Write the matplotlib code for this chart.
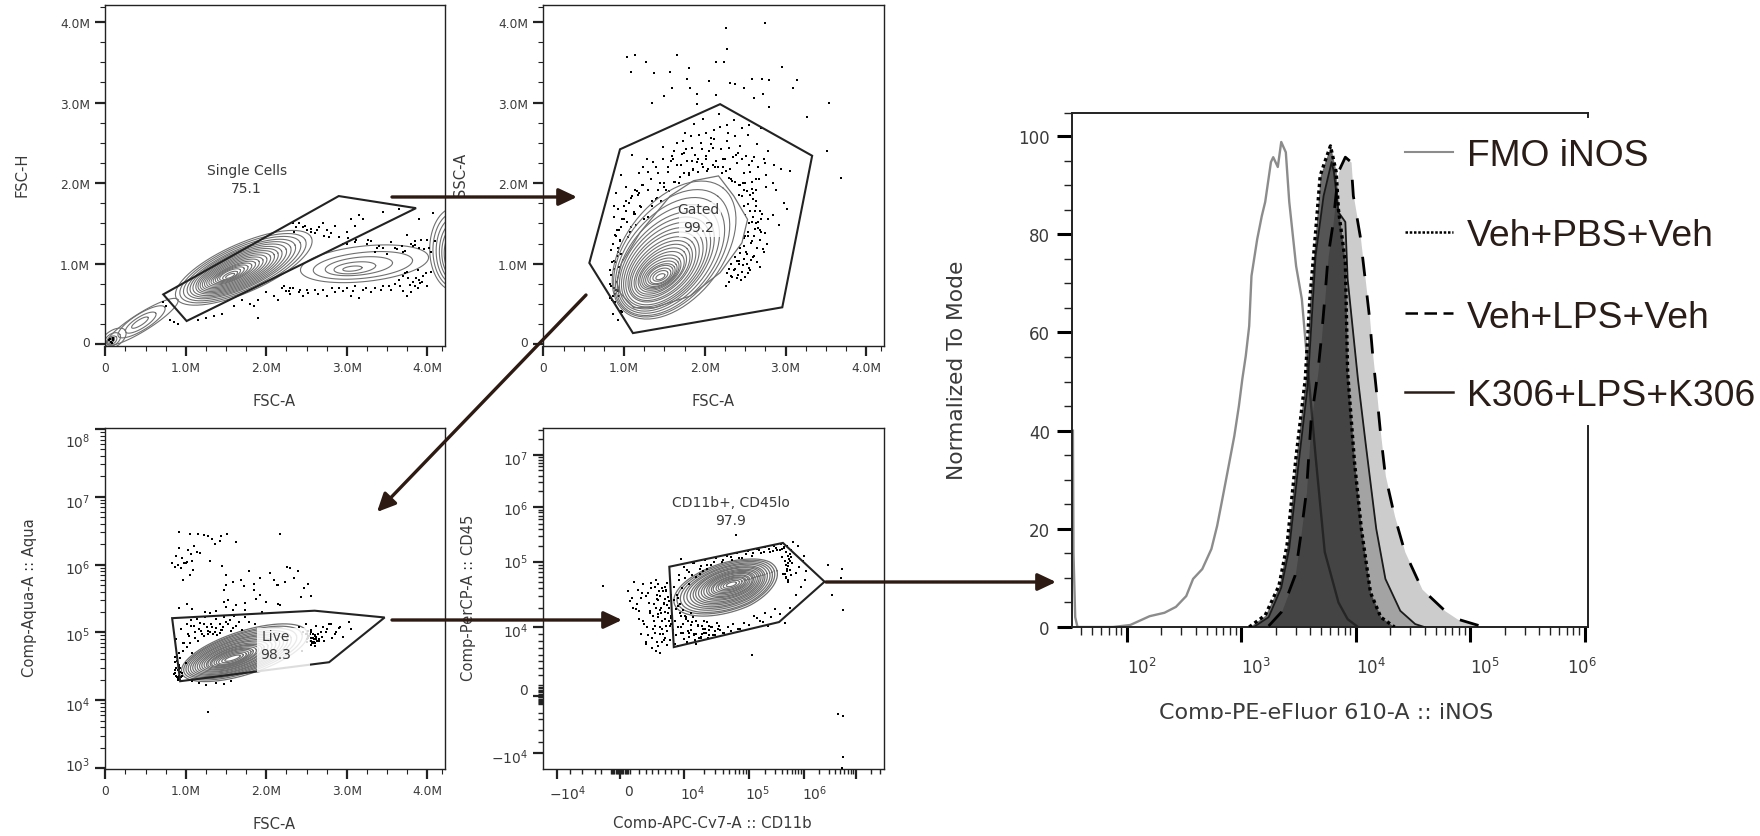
import numpy as np
import matplotlib
matplotlib.use('Agg')
import matplotlib.pyplot as plt
from matplotlib.patches import FancyArrowPatch, Rectangle
from matplotlib.lines import Line2D
from matplotlib.ticker import NullFormatter
from matplotlib.transforms import ScaledTranslation

plt.rcParams['mathtext.fontset'] = 'dejavusans'
plt.rcParams['mathtext.default'] = 'regular'

W, H = 1760, 837
DARK = '#222222'
TXT = '#3a3a3a'
RING = '#707070'
ARROW = '#2d1a12'

# ---- gates
gate1_x = [0.72, 2.90, 3.86, 1.01]
gate1_y = [0.62, 1.84, 1.69, 0.29]
gate2_x = [0.95, 2.19, 3.33, 2.96, 1.11, 0.57]
gate2_y = [2.42, 2.98, 2.34, 0.46, 0.14, 1.01]
gate3_x = [0.83, 2.60, 3.47, 2.78, 0.93]
gate3_log = [5.21, 5.32, 5.22, 4.56, 4.28]
gate4_s = [0.77, 2.62, 3.40, 2.55, 0.84]
gate4_t = [1.93, 2.35, 1.70, 1.08, 0.71]

# ---- contour rings: centre, semi axes, tilt
p1_cx = [1.72, 1.71, 1.70, 1.69, 1.68, 1.67, 1.66, 1.65, 1.64, 1.63, 1.62, 1.61, 1.60, 1.59, 1.58, 1.57, 1.56, 1.55, 1.55, 1.55,
         3.22, 3.20, 3.15, 3.10, 3.07,
         0.46, 0.45, 0.44, 0.43,
         0.10, 0.09, 0.08, 0.07, 0.07, 0.07,
         4.35, 4.35, 4.35, 4.35, 4.35, 4.35, 4.35, 4.35]
p1_cy = [0.95, 0.945, 0.94, 0.935, 0.93, 0.925, 0.92, 0.915, 0.91, 0.905, 0.90, 0.895, 0.89, 0.885, 0.88, 0.875, 0.87, 0.865, 0.855, 0.85,
         1.00, 0.98, 0.97, 0.95, 0.94,
         0.28, 0.28, 0.27, 0.27,
         0.07, 0.06, 0.05, 0.05, 0.05, 0.05,
         1.18, 1.17, 1.16, 1.15, 1.14, 1.13, 1.12, 1.12]
p1_a = [0.92, 0.85, 0.79, 0.73, 0.68, 0.63, 0.58, 0.54, 0.50, 0.46, 0.42, 0.38, 0.34, 0.30, 0.26, 0.22, 0.18, 0.14, 0.10, 0.06,
        0.80, 0.62, 0.42, 0.26, 0.12,
        0.52, 0.34, 0.22, 0.12,
        0.18, 0.11, 0.07, 0.05, 0.03, 0.02,
        0.52, 0.47, 0.42, 0.37, 0.32, 0.27, 0.22, 0.17]
p1_b = [0.30, 0.28, 0.26, 0.24, 0.225, 0.21, 0.195, 0.18, 0.165, 0.15, 0.135, 0.12, 0.105, 0.09, 0.08, 0.07, 0.06, 0.05, 0.035, 0.02,
        0.22, 0.16, 0.11, 0.07, 0.03,
        0.11, 0.10, 0.07, 0.035,
        0.10, 0.07, 0.045, 0.03, 0.02, 0.012,
        0.32, 0.28, 0.24, 0.20, 0.17, 0.14, 0.11, 0.08]
p1_ang = [24] * 20 + [6] * 5 + [32] * 4 + [35] * 6 + [90] * 8

p2_cx = [1.62, 1.59, 1.57, 1.55, 1.53, 1.52, 1.51, 1.50, 1.49, 1.48, 1.47, 1.47, 1.46, 1.46, 1.45, 1.45, 1.45, 1.45, 1.45, 1.45, 1.45, 1.45]
p2_cy = [1.17, 1.13, 1.09, 1.06, 1.03, 1.01, 0.99, 0.97, 0.96, 0.94, 0.93, 0.92, 0.91, 0.90, 0.89, 0.88, 0.87, 0.86, 0.86, 0.85, 0.85, 0.84]
p2_a = [0.98, 0.91, 0.85, 0.79, 0.73, 0.68, 0.63, 0.58, 0.53, 0.49, 0.45, 0.41, 0.37, 0.33, 0.29, 0.26, 0.23, 0.20, 0.17, 0.14, 0.10, 0.06]
p2_b = [0.60, 0.56, 0.52, 0.48, 0.44, 0.41, 0.38, 0.35, 0.32, 0.29, 0.26, 0.235, 0.21, 0.19, 0.17, 0.15, 0.13, 0.115, 0.10, 0.08, 0.055, 0.03]
p2_ang = [52, 51, 50, 49, 48, 47, 46, 45, 44, 43, 42, 41, 40, 38, 36, 34, 32, 30, 29, 28, 26, 25]
egg_x = [0.91, 0.97, 1.20, 1.57, 1.86, 2.17, 2.36, 2.53, 2.46, 2.19, 1.82, 1.37, 1.12, 0.95, 0.91]
egg_y = [0.77, 1.01, 1.39, 1.84, 2.03, 2.09, 1.84, 1.55, 1.26, 0.89, 0.60, 0.455, 0.455, 0.64, 0.77]

p3_cx = [1.73, 1.71, 1.69, 1.67, 1.66, 1.65, 1.64, 1.63, 1.62, 1.61, 1.60, 1.60, 1.59, 1.59, 1.58, 1.58, 1.58, 1.58, 1.58, 1.58]
p3_cy = [4.70, 4.695, 4.69, 4.68, 4.675, 4.67, 4.665, 4.66, 4.655, 4.65, 4.645, 4.64, 4.64, 4.635, 4.63, 4.63, 4.625, 4.62, 4.62, 4.62]
p3_a = [0.82, 0.77, 0.72, 0.67, 0.63, 0.59, 0.55, 0.51, 0.47, 0.43, 0.39, 0.36, 0.33, 0.30, 0.27, 0.24, 0.21, 0.18, 0.14, 0.10]
p3_b = [0.27, 0.25, 0.235, 0.22, 0.205, 0.19, 0.18, 0.165, 0.15, 0.14, 0.125, 0.115, 0.105, 0.095, 0.085, 0.075, 0.065, 0.055, 0.04, 0.025]

p4_cx = [1.68, 1.68, 1.685, 1.69, 1.69, 1.695, 1.70, 1.70, 1.705, 1.71, 1.71, 1.715, 1.72, 1.72, 1.72, 1.725, 1.73, 1.73, 1.73, 1.73]
p4_cy = [1.615, 1.62, 1.62, 1.625, 1.63, 1.63, 1.635, 1.64, 1.64, 1.645, 1.645, 1.65, 1.65, 1.65, 1.655, 1.655, 1.66, 1.66, 1.66, 1.66]
p4_a = [0.87, 0.82, 0.77, 0.72, 0.67, 0.62, 0.58, 0.54, 0.50, 0.46, 0.42, 0.38, 0.35, 0.31, 0.28, 0.24, 0.21, 0.17, 0.13, 0.08]
p4_b = [0.38, 0.355, 0.335, 0.31, 0.29, 0.27, 0.25, 0.235, 0.215, 0.195, 0.18, 0.165, 0.15, 0.13, 0.115, 0.10, 0.085, 0.07, 0.05, 0.03]

# ---- single events, read by eye
dots1_x = [2.45, 2.50, 2.55, 2.60, 2.65, 2.70, 2.75, 2.80, 2.85, 2.90, 2.95, 3.00, 3.05, 3.10, 3.15, 3.20, 3.30,
           3.40, 3.45, 3.55, 3.60, 3.70, 3.75, 3.80, 3.85, 3.90, 4.00, 4.05, 3.65, 3.45, 4.07, 3.90, 4.10, 2.40,
           2.35, 3.00, 3.10, 3.25, 3.35, 3.50, 2.30, 2.20, 2.25, 2.30, 2.40, 2.45, 2.50, 2.60, 2.70, 2.75, 2.85,
           2.90, 3.00, 3.05, 3.10, 3.15, 3.20, 3.30, 3.35, 3.45, 3.55, 3.60, 3.70, 3.75, 3.80, 3.85, 3.90, 3.95,
           4.00, 4.05, 3.65, 3.70, 3.75, 2.00, 2.10, 2.15, 1.90, 1.85, 1.80, 1.70, 1.60, 1.35, 1.25, 1.45, 1.90,
           0.72, 0.75, 0.80, 0.85, 0.90, 1.15, 2.33, 2.37, 3.62, 3.68, 3.72, 3.78, 3.82, 3.88, 3.94,
           2.48, 2.56, 2.63, 2.72, 2.78, 3.82, 3.85, 3.92, 3.96, 4.02, 3.86, 3.91, 3.98, 3.88, 3.72, 3.76, 3.66,
           2.22, 2.28, 2.33, 2.42, 2.52, 2.64, 2.82, 2.95, 3.08, 3.24, 3.42, 3.52, 3.02, 3.12, 3.26, 3.38, 0.06,
           0.09, 0.07, 0.10, 0.05, 0.08]
dots1_y = [1.45, 1.42, 1.40, 1.38, 1.45, 1.50, 1.42, 1.38, 1.47, 1.33, 1.25, 1.40, 1.55, 1.47, 1.60, 1.56, 1.28,
           1.22, 1.20, 1.27, 1.20, 1.15, 1.36, 1.25, 1.23, 1.20, 1.30, 1.15, 1.68, 1.64, 1.63, 1.55, 1.28, 1.50,
           1.40, 1.25, 1.27, 1.25, 1.15, 1.12, 0.70, 0.70, 0.66, 0.62, 0.65, 0.60, 0.68, 0.68, 0.67, 0.60, 0.65,
           0.70, 0.70, 0.60, 0.72, 0.58, 0.68, 0.65, 0.70, 0.72, 0.68, 0.75, 0.66, 0.60, 0.65, 0.72, 0.80, 0.85,
           0.72, 0.90, 0.80, 0.85, 0.90, 0.65, 0.60, 0.55, 0.55, 0.48, 0.50, 0.55, 0.48, 0.35, 0.33, 0.38, 0.33,
           0.52, 0.48, 0.30, 0.28, 0.25, 0.30, 1.50, 1.46, 1.18, 1.22, 1.16, 0.74, 0.78, 0.70, 0.78,
           1.47, 1.43, 1.42, 1.35, 1.33, 1.22, 1.28, 1.30, 1.18, 1.20, 0.82, 0.76, 0.88, 0.92, 0.88, 0.82, 0.72,
           0.72, 0.66, 0.70, 0.68, 0.64, 0.62, 0.70, 0.66, 0.66, 0.70, 0.68, 0.72, 1.32, 1.30, 1.30, 1.20, 0.07,
           0.05, 0.03, 0.08, 0.05, 0.02]

dots2_x = [2.26, 2.75, 2.28, 1.04, 1.14, 1.66, 1.27, 2.14, 2.24, 1.81, 2.96, 1.09, 1.37, 1.57, 1.78, 2.05, 2.31,
           2.38, 2.58, 2.71, 2.80, 3.14, 3.09, 2.48, 1.59, 1.82, 1.90, 1.50, 2.14, 2.61, 2.72, 1.35, 1.90, 3.54,
           2.80, 3.26, 3.52, 3.69, 3.06, 3.02,
           1.18, 1.28, 1.39, 1.48, 1.58, 1.66, 1.74, 1.83, 1.92, 2.01, 2.10, 2.19, 2.27, 2.36, 2.44, 2.53, 2.61,
           2.70, 2.78, 1.22, 1.33, 1.44, 1.55, 1.63, 1.71, 1.80, 1.88, 1.96, 2.05, 2.13, 2.22, 2.31, 2.40, 2.49,
           2.58, 2.66, 2.76, 2.86, 1.10, 1.19, 1.30, 1.41, 1.50, 1.61, 1.69, 1.77, 1.86, 1.95, 2.03, 2.12, 2.21,
           2.30, 2.39, 2.47, 2.56, 2.65, 2.74, 2.84, 2.94, 1.62, 1.73, 1.84, 1.93, 2.02, 2.11, 2.20, 2.28, 2.37,
           2.46, 2.55, 2.64, 2.73, 1.76, 1.87, 1.98, 2.08, 2.18, 2.29, 2.34, 2.42, 2.50, 2.58, 2.67, 2.76, 2.88,
           1.02, 1.06, 1.12, 1.17, 1.25, 1.34, 1.42, 1.50, 0.96, 1.02, 1.08, 1.14, 1.21, 1.30, 0.90, 0.95, 1.00,
           1.07, 1.15, 0.88, 0.93, 0.99, 1.05, 0.86, 0.91, 0.96, 1.02, 0.84, 0.89, 0.94, 0.83, 0.87, 0.92, 0.84,
           0.89, 0.82, 0.85, 0.90, 0.94, 0.97, 0.92, 0.96, 0.83, 0.86,
           2.42, 2.49, 2.56, 2.63, 2.71, 2.78, 2.55, 2.62, 2.70, 2.50, 2.58, 2.66, 2.44, 2.52, 2.60, 2.40, 2.47,
           2.55, 2.36, 2.43, 2.51, 2.33, 2.40, 2.48, 2.54, 2.30, 2.26, 2.60, 2.64, 2.85, 2.92, 2.98,
           1.34, 1.40, 1.46, 1.52, 1.56, 1.62, 1.68, 1.74, 1.80, 1.86, 1.92, 1.98, 2.04, 2.10, 2.16, 2.22, 2.26,
           2.32, 2.38, 2.44, 2.48, 2.52, 2.56, 2.60, 2.64, 2.68, 1.24, 1.30, 1.36, 1.42, 1.48, 1.54, 1.60, 1.66,
           1.72, 1.78, 1.84, 1.90, 1.96, 2.02, 2.08, 2.14, 2.20, 2.25, 2.30, 2.35, 2.41, 2.46, 2.51, 2.55, 2.59,
           2.38, 2.42, 2.46, 2.50, 2.54, 2.58, 2.62, 2.66, 2.70, 2.74, 2.45, 2.49, 2.53, 2.57, 2.61, 2.65, 2.69,
           2.73, 2.77, 2.56, 2.60, 2.64, 2.68, 2.72, 2.57, 2.61, 2.65, 2.69, 2.40, 2.44, 2.48, 2.52, 2.56, 2.38,
           2.42, 2.46, 2.50, 2.54, 2.33, 2.37, 2.41, 2.45, 2.30, 2.34, 2.28,
           0.88, 0.92, 0.96, 1.00, 1.04, 1.08, 1.12, 1.16, 1.20, 1.24, 0.90, 0.94, 0.98, 1.02, 1.06, 1.10, 1.14,
           0.86, 0.89, 0.92, 0.95, 0.85, 0.88, 0.91, 0.94, 0.84, 0.87, 0.90, 0.93, 0.86, 0.89, 0.92]
dots2_y = [3.93, 3.99, 3.67, 3.57, 3.59, 3.59, 3.50, 3.50, 3.50, 3.43, 3.44, 3.38, 3.37, 3.38, 3.29, 3.27, 3.24,
           3.23, 3.29, 3.29, 3.28, 3.28, 3.18, 3.18, 3.18, 3.18, 3.11, 3.08, 3.09, 3.06, 3.11, 2.99, 2.98, 2.99,
           2.95, 2.82, 2.40, 2.07, 2.15, 1.68,
           2.12, 2.30, 2.20, 2.45, 2.28, 2.50, 2.37, 2.58, 2.30, 2.62, 2.44, 2.70, 2.52, 2.78, 2.46, 2.60, 2.33,
           2.68, 2.40, 1.98, 2.05, 2.00, 2.14, 2.02, 2.22, 2.13, 2.35, 2.24, 2.40, 2.20, 2.30, 2.18, 2.25, 2.12,
           2.02, 2.20, 2.10, 2.22, 2.35, 1.88, 1.92, 1.82, 1.95, 2.30, 2.08, 2.42, 2.18, 2.50, 2.15, 2.55, 2.12,
           2.07, 2.35, 2.00, 2.14, 2.48, 2.25, 2.00, 2.18, 2.40, 2.52, 2.28, 2.60, 2.34, 2.66, 2.42, 2.72, 2.58,
           2.68, 2.72, 2.05, 2.30, 2.62, 2.74, 2.80, 2.56, 2.86, 2.62, 2.03, 1.98, 2.00, 1.93, 2.05, 1.95, 1.92,
           1.95, 1.75, 1.62, 1.85, 1.55, 1.78, 1.92, 2.00, 2.10, 1.78, 1.45, 1.62, 1.70, 1.58, 1.88, 1.30, 1.55,
           1.40, 1.48, 1.72, 1.20, 1.05, 1.33, 1.25, 1.42, 1.12, 0.98, 1.17, 1.02, 0.88, 0.92, 1.03, 0.82, 0.72,
           0.62, 0.75, 0.55, 0.68, 0.60, 0.40, 0.30, 0.42, 0.58, 0.38,
           1.85, 1.72, 1.66, 1.78, 1.62, 1.55, 1.50, 1.43, 1.40, 1.34, 1.28, 1.52, 1.20, 1.12, 1.08, 1.03, 0.98,
           0.95, 0.92, 1.04, 1.14, 0.85, 0.82, 1.22, 1.35, 0.78, 0.72, 1.88, 1.92, 1.60, 1.48, 1.75,
           1.72, 1.80, 1.78, 1.92, 1.90, 2.02, 2.00, 2.12, 2.10, 2.16, 2.14, 2.20, 2.18, 2.22, 2.20, 2.20, 2.15,
           2.05, 2.02, 1.98, 1.92, 1.90, 1.85, 1.80, 1.72, 1.66, 2.20, 2.14, 2.26, 2.12, 2.30, 2.20, 2.34, 2.22,
           2.36, 2.28, 2.44, 2.26, 2.42, 2.30, 2.48, 2.28, 2.42, 2.30, 2.44, 2.32, 2.38, 2.30, 2.34, 2.22, 2.28,
           1.78, 1.70, 1.84, 1.60, 1.74, 1.52, 1.66, 1.44, 1.56, 1.38, 1.46, 1.32, 1.40, 1.26, 1.34, 1.20, 1.30,
           1.14, 1.24, 1.65, 1.58, 1.50, 1.42, 1.18, 1.05, 1.10, 1.02, 0.96, 1.20, 1.13, 1.06, 1.00, 0.92, 1.08,
           1.00, 0.90, 0.84, 0.88, 1.00, 0.93, 0.86, 0.80, 0.94, 0.84, 0.88,
           1.58, 1.68, 1.46, 1.72, 1.52, 1.82, 1.64, 1.90, 1.72, 1.98, 1.34, 1.42, 1.56, 1.66, 1.76, 1.84, 1.92,
           1.25, 1.36, 1.15, 1.28, 1.02, 0.94, 1.10, 0.96, 0.86, 0.70, 0.78, 0.66, 0.60, 0.52, 0.68]

dots3_x = [0.92, 1.05, 1.15, 1.22, 1.28, 1.44, 1.51, 1.62, 2.17, 1.33, 1.42, 1.36, 0.83, 0.88, 0.91, 0.95, 1.00,
           1.03, 1.06, 1.10, 1.14, 1.18, 0.86, 0.94, 0.98, 1.02, 1.05, 1.09, 0.90, 0.96, 1.08, 1.30, 1.45, 1.50,
           1.58, 1.68, 1.72, 1.50, 1.47, 1.78, 1.85, 1.92, 2.05, 2.09, 2.13, 2.23, 2.30, 2.34, 2.39, 1.85, 1.92,
           2.15, 2.26, 2.52, 2.47, 2.56, 1.47, 1.53, 1.62, 1.74, 1.87, 2.00, 2.17, 2.43, 0.92, 1.01, 1.08, 1.24,
           1.38, 1.50, 1.59, 1.74, 1.95, 2.14, 1.30,
           0.88, 0.91, 0.94, 0.97, 1.00, 1.03, 1.07, 1.12, 1.17, 1.22, 1.27, 1.33, 1.39, 1.45, 1.50, 1.56, 1.62,
           1.70, 1.78, 1.86, 1.05, 1.12, 1.20, 1.28, 1.36, 1.44, 0.90, 0.92, 0.95, 0.88, 0.93, 0.86, 0.90,
           2.40, 2.45, 2.49, 2.52, 2.55, 2.58, 2.60, 2.62, 2.65, 2.68, 2.72, 2.76, 2.80, 2.85, 2.90, 2.95, 3.03,
           3.05, 2.56, 2.59, 2.62, 2.64, 2.54, 2.58, 2.61, 2.66, 2.69, 2.50, 2.44, 1.08, 1.17, 1.25, 1.38, 1.48,
           1.56, 1.27,
           2.50, 2.52, 2.54, 2.56, 2.58, 2.60, 2.62, 2.51, 2.53, 2.55, 2.57, 2.59, 2.61, 2.63, 2.49, 2.52, 2.55,
           2.58, 2.60, 0.85, 0.87, 0.89, 0.91, 0.93, 0.95, 0.86, 0.88, 0.90, 0.92, 0.94, 0.87, 0.89, 0.91, 0.93,
           0.96, 0.98, 1.01, 1.04, 1.08, 1.11, 1.15, 1.19, 1.23, 1.26, 1.30, 1.34, 1.38, 1.42, 1.46, 1.53, 1.58,
           1.02, 1.06, 1.10, 1.14, 1.18, 1.24, 1.31, 1.37, 1.43, 1.48, 1.55, 1.60, 1.66, 1.74, 2.70, 2.74, 2.78,
           2.82, 2.86, 2.92]
dots3_log = [6.48, 6.45, 6.45, 6.43, 6.42, 6.42, 6.45, 6.33, 6.45, 6.38, 6.35, 6.30, 6.02, 6.12, 6.25, 6.10, 6.03,
             6.22, 6.15, 6.28, 6.19, 6.17, 5.97, 5.95, 6.02, 6.04, 5.85, 5.92, 6.00, 5.78, 6.05, 6.05, 5.98, 5.85,
             5.75, 5.78, 5.68, 5.70, 5.62, 5.90, 5.72, 5.80, 5.87, 5.78, 5.70, 5.75, 5.95, 5.80, 5.90, 5.62, 5.55,
             5.70, 5.97, 5.72, 5.65, 5.53, 5.45, 5.48, 5.40, 5.43, 5.50, 5.45, 5.40, 5.52, 5.36, 5.42, 5.35, 5.30,
             5.32, 5.38, 5.33, 5.33, 5.30, 5.42, 5.28,
             4.90, 4.70, 5.05, 4.85, 4.55, 4.98, 5.10, 4.92, 5.05, 5.12, 4.98, 5.08, 4.96, 5.03, 5.15, 5.02, 5.10,
             5.03, 5.15, 5.12, 4.85, 4.92, 4.98, 5.02, 5.00, 5.04, 4.45, 4.52, 4.40, 4.35, 4.62, 4.40, 4.32,
             5.08, 5.00, 5.12, 4.92, 5.03, 4.85, 4.95, 5.10, 4.90, 5.00, 4.88, 5.05, 5.12, 4.98, 5.07, 4.93, 5.15,
             5.05, 4.92, 4.86, 4.93, 4.97, 4.88, 4.98, 4.84, 4.88, 4.93, 4.97, 4.73, 4.28, 4.25, 4.22, 4.26, 4.24,
             4.28, 3.83,
             4.90, 4.94, 4.98, 4.88, 4.92, 4.96, 4.90, 4.86, 4.95, 5.00, 4.84, 4.90, 4.94, 4.87, 4.97, 5.02, 4.82,
             4.86, 4.80, 4.38, 4.44, 4.34, 4.50, 4.42, 4.36, 4.56, 4.48, 4.30, 4.46, 4.34, 4.64, 4.58, 4.36, 4.48,
             4.72, 4.85, 4.78, 4.95, 4.70, 5.00, 4.88, 5.02, 4.95, 5.08, 5.00, 4.97, 5.06, 4.99, 5.08, 5.12, 5.07,
             5.12, 5.18, 5.10, 5.20, 5.14, 5.22, 5.13, 5.20, 5.12, 5.22, 5.18, 5.24, 5.16, 5.22, 5.08, 5.00, 5.12,
             4.92, 5.00, 5.08]

dots4_s = [-0.27, 3.74, 3.72, 3.76, 3.66, 3.76, 3.75, 3.73, 3.47, 3.55, 1.80,
           0.12, 0.15, 0.22, 0.25, 0.28, 0.30, 0.33, 0.36, 0.40, 0.43, 0.46, 0.50, 0.53, 0.56, 0.60, 0.63, 0.66,
           0.70, 0.73, 0.76, 0.80, 0.18, 0.27, 0.35, 0.42, 0.48, 0.55, 0.61, 0.68, 0.74, 0.79, 0.30, 0.38, 0.45,
           0.52, 0.58, 0.64, 0.71, 0.77, 0.20, 0.32, 0.40, 0.47, 0.54, 0.60, 0.67, 0.72, 0.44, 0.50, 0.57, 0.62,
           0.69, 0.75, 0.36, 0.48, 0.56, 0.65, 0.72, 0.78, 0.41, 0.53, 0.63, 0.74, 0.80, 0.51, 0.59, 0.66, 0.70,
           0.86, 0.90, 0.94, 0.98, 1.03, 1.08, 1.12, 1.17, 1.22, 1.27, 1.32, 1.37, 1.42, 1.48, 1.54, 1.60, 1.68,
           1.75, 1.83, 1.92, 0.88, 0.95, 1.00, 1.06, 1.11, 1.16, 1.21, 1.26, 1.31, 1.38, 1.45, 1.52, 1.62, 1.73,
           1.86, 2.00, 0.89, 0.92, 0.97, 1.02, 1.07, 1.13, 1.19, 1.25, 1.30, 0.86, 0.90, 0.84, 0.88, 0.85, 0.92,
           0.96, 1.05, 1.18,
           1.00, 1.08, 1.16, 1.25, 1.33, 1.42, 1.50, 1.58, 1.66, 1.74, 1.82, 1.90, 1.98, 2.06, 2.14, 2.22, 2.30,
           2.38, 2.45, 2.52, 2.58, 2.64, 2.70, 2.76, 2.60, 2.65, 2.68, 2.72, 2.75, 2.62, 2.67, 2.71, 2.78, 2.85,
           2.92, 2.98, 3.05, 3.00, 2.90, 2.80, 2.40, 2.30, 2.20, 2.10, 2.48, 2.56, 2.35, 2.25, 2.15, 2.66, 2.74,
           2.86, 2.94, 3.02, 0.95, 1.35, 2.05,
           0.56, 0.60, 0.64, 0.68, 0.72, 0.76, 0.58, 0.62, 0.66, 0.70, 0.74, 0.78, 0.55, 0.59, 0.63, 0.67, 0.71,
           0.75, 0.79, 0.83, 0.87, 0.91, 0.95, 0.99, 1.03, 1.07, 1.11, 1.15, 1.19, 1.23, 1.27, 1.31, 1.35, 1.39,
           1.43, 1.47, 1.51, 1.55, 0.90, 0.94, 0.98, 1.02, 1.06, 1.10, 1.14, 1.18, 1.22, 1.26, 1.30, 1.34, 1.38,
           2.68, 2.70, 2.72, 2.74, 2.76, 2.66, 2.69, 2.71, 2.73, 2.75, 2.67, 2.72, 2.77, 2.64, 2.60, 2.56, 2.50,
           2.44, 2.36, 2.28, 2.18, 2.08, 1.96, 1.84, 1.72, 1.60, 1.46, 1.36, 1.26, 1.14, 1.04]
dots4_t = [1.64, 1.90, 1.75, 1.27, -0.31, -0.36, -1.07, -1.26, 1.96, 1.50, 2.50,
           1.55, 1.40, 1.70, 1.28, 1.58, 1.12, 1.45, 1.66, 0.78, 1.52, 1.22, 0.85, 1.36, 1.72, 0.72, 1.48, 1.10,
           1.62, 0.95, 1.30, 1.50, 1.45, 1.35, 1.52, 1.00, 1.68, 0.92, 1.55, 0.82, 1.68, 1.18, 1.25, 1.05, 1.38,
           1.18, 1.44, 1.30, 1.12, 1.40, 1.30, 0.90, 0.75, 1.25, 1.02, 1.20, 0.90, 1.02, 0.88, 0.70, 0.78, 1.00,
           1.38, 1.22, 1.10, 1.60, 0.65, 0.78, 1.55, 0.82, 1.48, 1.10, 0.62, 0.74, 1.05, 0.98, 1.66, 1.60, 0.84,
           1.10, 1.32, 1.22, 1.05, 1.15, 0.92, 1.08, 0.82, 1.02, 0.90, 0.98, 0.85, 1.00, 0.88, 1.02, 0.92, 1.00,
           1.05, 0.98, 1.06, 0.88, 1.00, 0.83, 0.95, 1.22, 0.88, 1.04, 0.84, 1.10, 0.96, 0.88, 0.98, 0.92, 0.95,
           0.98, 1.04, 1.50, 1.72, 1.60, 1.76, 1.66, 1.80, 1.78, 1.82, 1.86, 0.76, 0.72, 1.42, 1.28, 1.62, 1.80,
           0.92, 0.78, 0.76,
           1.92, 1.85, 1.98, 1.90, 2.04, 1.96, 2.08, 2.00, 2.12, 2.04, 2.16, 2.08, 2.20, 2.12, 2.24, 2.16, 2.27,
           2.18, 2.30, 2.22, 2.33, 2.25, 2.30, 2.22, 2.10, 2.03, 1.95, 2.12, 1.88, 1.82, 1.76, 1.70, 1.98, 1.84,
           1.92, 2.02, 1.86, 2.12, 2.30, 2.36, 1.15, 1.22, 1.10, 1.18, 1.28, 1.20, 1.02, 1.08, 1.14, 1.06, 1.30,
           1.50, 1.62, 1.72, 2.05, 1.90, 0.60,
           1.30, 1.42, 1.22, 1.36, 1.58, 1.10, 1.50, 1.26, 0.98, 1.44, 1.34, 1.02, 1.62, 1.16, 0.90, 1.56, 1.24,
           1.46, 1.14, 0.96, 1.28, 1.00, 1.18, 0.92, 1.12, 0.86, 1.04, 0.90, 1.10, 0.84, 1.02, 0.92, 1.08, 0.88,
           1.00, 0.94, 1.06, 0.96, 1.45, 1.36, 1.26, 1.18, 1.10, 0.96, 1.16, 0.90, 1.04, 0.86, 0.98, 0.92, 1.02,
           1.78, 1.86, 1.94, 2.02, 2.10, 1.82, 1.90, 1.98, 2.06, 2.14, 2.18, 1.72, 1.80, 2.28, 2.24, 2.22, 2.26,
           2.20, 2.24, 2.18, 2.22, 2.16, 2.14, 2.08, 2.10, 2.04, 2.00, 1.96, 1.94, 1.98, 1.88]

# ---- histogram curves: log10 of the axis value and percent of mode
fmo_log = [1.53, 1.535, 1.55, 1.57, 1.88, 2.03, 2.20, 2.33, 2.43, 2.52, 2.58, 2.66, 2.74, 2.79, 2.83, 2.88, 2.94,
           2.98, 3.01, 3.04, 3.07, 3.09, 3.14, 3.18, 3.21, 3.26, 3.28, 3.32, 3.35, 3.39, 3.42, 3.48, 3.53, 3.56,
           3.65, 3.73, 3.85, 3.93, 4.02]
fmo_pct = [40, 15, 2, 0, 0, 0.4, 2.2, 2.9, 4.1, 6.3, 9.8, 11.8, 15.9, 20.6, 25.4, 31.5, 38.9,
           45, 50.5, 55.2, 61.3, 71.5, 79, 83.7, 86.6, 94.7, 95.7, 93.7, 98.8, 96.7, 86.6, 73.5, 66.8, 58.7,
           34.8, 15.3, 5, 1.6, 0]
pbs_log = [3.07, 3.21, 3.33, 3.40, 3.48, 3.56, 3.60, 3.65, 3.69, 3.73, 3.78, 3.83, 3.85, 3.91, 3.93, 3.99, 4.05, 4.13, 4.22, 4.34]
pbs_pct = [0, 2.4, 8.4, 16.6, 34.8, 50.5, 66.8, 80.4, 91.9, 94.7, 98, 92.7, 85, 74.3, 52, 33.6, 20, 7, 2, 0]
k306_log = [3.11, 3.24, 3.35, 3.42, 3.50, 3.58, 3.65, 3.72, 3.79, 3.81, 3.85, 3.91, 3.93, 4.02, 4.09, 4.18, 4.26, 4.39, 4.52, 4.60]
k306_pct = [0, 2, 8, 16, 33, 49, 75.6, 87.8, 94.7, 92.7, 84.5, 82.5, 70.9, 50.5, 36.9, 20, 9.8, 3.3, 0.6, 0]
lps_log = [3.24, 3.35, 3.47, 3.52, 3.57, 3.61, 3.67, 3.70, 3.73, 3.76, 3.80, 3.85, 3.91, 3.96, 3.98, 4.04, 4.08, 4.12, 4.15,
           4.18, 4.22, 4.26, 4.34, 4.43, 4.58, 4.78, 4.89, 5.09, 5.24]
lps_pct = [0.2, 3, 10.4, 18.5, 27.5, 41.8, 51.9, 58.7, 66.8, 75.6, 81.7, 92.7, 95.7, 94.7, 87.8, 79.6, 71.5, 63.3, 55.2,
           48.5, 38.9, 30.8, 22.6, 15.3, 7.7, 3.3, 1.6, 0.2, 0]
legend_names = ['FMO iNOS', 'Veh+PBS+Veh', 'Veh+LPS+Veh', 'K306+LPS+K306']

# ---- ticks
lin_major = [0, 1, 2, 3, 4]
lin_labels = ['0', '1.0M', '2.0M', '3.0M', '4.0M']
lin_minor = [0.25, 0.5, 0.75, 1.25, 1.5, 1.75, 2.25, 2.5, 2.75, 3.25, 3.5, 3.75, 4.18]
hist_y_major = [0, 20, 40, 60, 80, 100]
hist_y_minor = [5, 10, 15, 25, 30, 35, 45, 50, 55, 65, 70, 75, 85, 90, 95, 104.7]

# piecewise axis of panel 4: s = 1 is 10^4, 2 is 10^5 and so on, below 10^4 it is linear
sx_knots = [-3, -1, 0, 1, 2, 3, 4, 6]
x_pos = [-30, 350, 540, 732, 927, 1092, 1248, 1560]
sy_knots = [-3, -1, 0, 1, 2, 3, 4, 6]
y_pos = [1349, 1003, 830, 625, 430, 265, 108, -206]


def to_s(v):
    v = np.asarray(v, dtype=float)
    a = np.abs(v)
    return np.where(a <= 1e4, v / 1e4, np.sign(v) * (1 + np.log10(np.maximum(a, 1e4) / 1e4)))


def from_s(s):
    s = np.asarray(s, dtype=float)
    a = np.abs(s)
    return np.where(a <= 1, s * 1e4, np.sign(s) * 1e4 * 10.0 ** (np.maximum(a, 1) - 1))


def rect(l, t, r, b):
    return [l / W, 1 - b / H, (r - l) / W, (b - t) / H]


def ring(cx, cy, a, b, ang, yfac=1.0):
    t = np.linspace(0, 2 * np.pi, 70)
    th = np.radians(ang)
    x = cx + a * np.cos(t) * np.cos(th) - b * np.sin(t) * np.sin(th)
    y = cy + (a * np.cos(t) * np.sin(th) + b * np.sin(t) * np.cos(th)) * yfac
    return x, y


def style_box(ax):
    for s in ax.spines.values():
        s.set_linewidth(1.0)
        s.set_color(DARK)
    ax.tick_params(which='major', length=7.2, width=1.6, color=DARK, labelsize=8.8, labelcolor=TXT, pad=3.5)
    ax.tick_params(which='minor', length=3.6, width=0.8, color=DARK)


def shift_labels(labels, dxs, dys):
    for lab, dx, dy in zip(labels, dxs, dys):
        lab.set_transform(lab.get_transform() + ScaledTranslation(dx / 100, -dy / 100, fig.dpi_scale_trans))


def px_text(x, y, s, va='center', **kw):
    fig.text(x / W, 1 - y / H, s, ha='center', va=va, **kw)


def px_arrow(x0, y0, x1, y1):
    fig.add_artist(FancyArrowPatch((x0 / W, 1 - y0 / H), (x1 / W, 1 - y1 / H), transform=fig.transFigure,
                                   arrowstyle='-|>,head_length=1.1,head_width=0.52', mutation_scale=10,
                                   lw=2.4, color=ARROW, shrinkA=0, shrinkB=0, zorder=8))


fig = plt.figure(figsize=(W / 100, H / 100), dpi=100, facecolor='white')

# panel 1
ax1 = fig.add_axes(rect(105, 6, 445, 347))
for c in zip(p1_cx, p1_cy, p1_a, p1_b, p1_ang):
    ax1.plot(*ring(*c), color=RING, lw=0.8, zorder=2)
ax1.scatter(dots1_x, dots1_y, s=1.6, c='k', marker='s', linewidths=0, zorder=3)
ax1.fill(gate1_x, gate1_y, fc='none', ec=DARK, lw=1.5, zorder=4)
ax1.text(1.756, 2.055, 'Single Cells\n75.1', ha='center', va='center', fontsize=10, color=TXT, linespacing=1.35)
ax1.set_xlim(-0.004, 4.22)
ax1.set_ylim(-0.02, 4.21)

# panel 2
ax2 = fig.add_axes(rect(543, 6, 884, 347))
ax2.scatter(dots2_x, dots2_y, s=1.6, c='k', marker='s', linewidths=0, zorder=1)
ax2.fill(egg_x, egg_y, fc='white', ec=RING, lw=0.9, zorder=2)
for c in zip(p2_cx, p2_cy, p2_a, p2_b, p2_ang):
    ax2.plot(*ring(*c), color=RING, lw=0.8, zorder=3)
ax2.fill(gate2_x, gate2_y, fc='none', ec=DARK, lw=1.5, zorder=4)
ax2.add_patch(Rectangle((1.68, 1.33), 0.52, 0.44, fc='white', ec='none', alpha=0.8, zorder=5))
ax2.text(1.925, 1.565, 'Gated\n99.2', ha='center', va='center', fontsize=10, color=TXT, linespacing=1.35, zorder=6)
ax2.set_xlim(-0.004, 4.22)
ax2.set_ylim(-0.02, 4.21)

for ax in (ax1, ax2):
    style_box(ax)
    ax.set_xticks(lin_major, lin_labels)
    ax.set_yticks(lin_major, lin_labels)
    ax.set_xticks(lin_minor, minor=True)
    ax.set_yticks(lin_minor, minor=True)
    shift_labels(ax.get_yticklabels(), [0] * 5, [-3, 0, 0, 0, 0])

# panel 3
ax3 = fig.add_axes(rect(105, 429, 445, 770))
ax3.set_yscale('log')
for cx, cy, a, b in zip(p3_cx, p3_cy, p3_a, p3_b):
    x, y = ring(cx, cy, a, b, 18, 1.18)
    ax3.plot(x, 10.0 ** y, color=RING, lw=0.9, zorder=2)
ax3.scatter(dots3_x, 10.0 ** np.array(dots3_log), s=1.6, c='k', marker='s', linewidths=0, zorder=3)
ax3.fill(gate3_x, 10.0 ** np.array(gate3_log), fc='none', ec=DARK, lw=1.5, zorder=4)
ax3.add_patch(Rectangle((1.88, 10 ** 4.42), 0.66, 10 ** 5.07 - 10 ** 4.42, fc='white', ec='none', alpha=0.85, zorder=5))
ax3.text(2.12, 10 ** 4.815, 'Live\n98.3', ha='center', va='center', fontsize=10, color=TXT, linespacing=1.35, zorder=6)
ax3.set_xlim(-0.004, 4.22)
ax3.set_ylim(10 ** 2.985, 10 ** 8.015)
style_box(ax3)
ax3.set_xticks(lin_major, lin_labels)
ax3.set_xticks(lin_minor, minor=True)
ax3.set_yticks([1e3, 1e4, 1e5, 1e6, 1e7, 1e8],
               ['$10^{%d}$' % p for p in [3, 4, 5, 6, 7, 8]])
ax3.set_yticks([m * 10.0 ** p for p in range(3, 8) for m in range(2, 10)], minor=True)
ax3.yaxis.set_minor_formatter(NullFormatter())
ax3.tick_params(axis='y', which='major', labelsize=10)
shift_labels(ax3.get_yticklabels(), [0] * 6, [-5, 3, 1, 2, 3, 10])

# panel 4
ax4 = fig.add_axes(rect(543, 429, 884, 770))
ax4.set_xscale('function', functions=(lambda v: np.interp(to_s(v), sx_knots, x_pos),
                                      lambda p: from_s(np.interp(p, x_pos, sx_knots))))
y_rev = [-p for p in y_pos]
ax4.set_yscale('function', functions=(lambda v: np.interp(to_s(v), sy_knots, y_rev),
                                      lambda p: from_s(np.interp(p, y_rev, sy_knots))))
for c in zip(p4_cx, p4_cy, p4_a, p4_b):
    x, y = ring(*c, 17)
    ax4.plot(from_s(x), from_s(y), color=RING, lw=0.9, zorder=2)
ax4.scatter(from_s(dots4_s), from_s(dots4_t), s=1.6, c='k', marker='s', linewidths=0, zorder=3)
ax4.fill(from_s(gate4_s), from_s(gate4_t), fc='none', ec=DARK, lw=1.5, zorder=4)
ax4.text(from_s(1.72), from_s(2.935), 'CD11b+, CD45lo\n97.9', ha='center', va='center', fontsize=10, color=TXT,
         linespacing=1.35)
ax4.set_xlim(from_s(-1.22), from_s(4.545))
ax4.set_ylim(from_s(-1.27), from_s(4.51))
style_box(ax4)
ax4.set_xticks([-1e4, 0, 1e4, 1e5, 1e6, 1e7], ['$-10^{4}$', '0', '$10^{4}$', '$10^{5}$', '$10^{6}$', ''])
ax4.set_yticks([-1e4, 0, 1e4, 1e5, 1e6, 1e7], ['$-10^{4}$', '0', '$10^{4}$', '$10^{5}$', '$10^{6}$', '$10^{7}$'])
log_minor = [m * 10.0 ** p for p in range(4, 7) for m in range(2, 10)]
near_zero = [-1500, -1300, -1100, -900, -700, -500, -300, -150, 150, 300, 500, 700, 900, 1100, 1300, 1500]
low_minor = [-8000, -6000, -4000, -3000, 3000, 4000, 5000, 6000, 7000, 8000, 9000]
top_minor = [2e7, 3e7]
ax4.set_xticks(log_minor + near_zero + low_minor + top_minor, minor=True)
ax4.set_yticks(log_minor + near_zero + low_minor + top_minor, minor=True)
ax4.tick_params(axis='both', which='major', labelsize=10)
ax4.tick_params(axis='both', which='minor', width=1.0)
shift_labels(ax4.get_xticklabels(), [11, 8, 9, 9, 11, 0], [0] * 6)
shift_labels(ax4.get_yticklabels(), [0] * 6, [2, -7, 2, -2, 0, 2])

# histogram
ax5 = fig.add_axes(rect(1072, 114, 1588, 628))
ax5.set_xscale('log')
ax5.plot(10.0 ** np.array(fmo_log), fmo_pct, color='#8c8c8c', lw=1.7, zorder=1)
ax5.fill_between(10.0 ** np.array(lps_log), lps_pct, color='k', alpha=0.2, lw=0, zorder=2)
ax5.fill_between(10.0 ** np.array(k306_log), k306_pct, color='k', alpha=0.2, lw=0, zorder=2)
ax5.fill_between(10.0 ** np.array(pbs_log), pbs_pct, color='k', alpha=0.58, lw=0, zorder=2)
ax5.plot(10.0 ** np.array(k306_log), k306_pct, color='#1a1a1a', lw=1.3, zorder=3)
ax5.plot(10.0 ** np.array(pbs_log), pbs_pct, color='k', lw=2.4, ls=(0, (1, 1)), zorder=4)
ax5.plot(10.0 ** np.array(lps_log), lps_pct, color='k', lw=2.0, ls=(0, (7, 7)), zorder=4)
ax5.set_xlim(10 ** 1.522, 10 ** 6.03)
ax5.set_ylim(0, 104.7)
ax5.spines['right'].set_bounds(0, 40.9)
for s in ax5.spines.values():
    s.set_linewidth(1.4)
    s.set_color(DARK)
ax5.set_xticks([1e2, 1e3, 1e4, 1e5, 1e6], ['$10^{%d}$' % p for p in [2, 3, 4, 5, 6]])
ax5.set_xticks([m * 10.0 ** p for p in range(1, 6) for m in range(2, 10) if m * 10.0 ** p > 35], minor=True)
ax5.xaxis.set_minor_formatter(NullFormatter())
ax5.set_yticks(hist_y_major)
ax5.set_yticks(hist_y_minor, minor=True)
ax5.tick_params(which='major', length=11, width=2.2, color='k', labelsize=12, labelcolor=TXT, pad=5)
ax5.tick_params(which='minor', length=6, width=1.0, color=DARK)
shift_labels(ax5.get_xticklabels(), [15, 15, 15, 15, -3], [8] * 5)
ax5.plot([10 ** 6.03, 10 ** 6.03], [103.9, 104.7], color=DARK, lw=1.4, clip_on=False)

# axis titles
px_text(274, 402, 'FSC-A', fontsize=10.6, color=TXT)
px_text(713, 402, 'FSC-A', fontsize=10.6, color=TXT)
px_text(274, 825, 'FSC-A', fontsize=10.6, color=TXT)
px_text(712, 828, 'Comp-APC-Cy7-A :: CD11b', va='baseline', fontsize=10.8, color=TXT)
px_text(22, 175, 'FSC-H', fontsize=10.6, color=TXT, rotation=90)
px_text(461, 175, 'SSC-A', fontsize=10.6, color=TXT, rotation=90)
px_text(30, 598, 'Comp-Aqua-A :: Aqua', fontsize=10.6, color=TXT, rotation=90)
px_text(468, 598, 'Comp-PerCP-A :: CD45', fontsize=10.6, color=TXT, rotation=90)
px_text(957, 370, 'Normalized To Mode', fontsize=15.7, color=TXT, rotation=90)
px_text(1326, 719, 'Comp-PE-eFluor 610-A :: iNOS', va='baseline', fontsize=16, color=TXT)

# the source image cuts these two titles off at the baseline
fig.add_artist(Rectangle((1150 / W, 1 - 735 / H), 360 / W, 15 / H, transform=fig.transFigure, fc='white', ec='none', zorder=6))
fig.add_artist(Rectangle((600 / W, 0), 240 / W, 1 - 829 / H, transform=fig.transFigure, fc='white', ec='none', zorder=6))

# legend
legend_y = [153, 233, 314, 393]
legend_styles = [dict(color='#8c8c8c', lw=1.5), dict(color='k', lw=1.8, ls=(0, (1, 0.7))),
                 dict(color='k', lw=1.8, ls=(0, (5, 2.6))), dict(color='#2a1d17', lw=1.8)]
for name, ly, st in zip(legend_names, legend_y, legend_styles):
    fig.add_artist(Line2D([1405 / W, 1453 / W], [1 - ly / H, 1 - ly / H], transform=fig.transFigure, zorder=7, **st))
    fig.text(1467 / W, 1 - (ly + 4) / H, name, ha='left', va='center', fontsize=26.8, color='#2a1d17',
             family='Liberation Sans', zorder=7)

# arrows between the plots
px_arrow(392, 198, 577, 198)
px_arrow(586, 296, 377, 513)
px_arrow(392, 621, 622, 621)
px_arrow(826, 583, 1056, 583)

fig.savefig('out.png', dpi=100)
